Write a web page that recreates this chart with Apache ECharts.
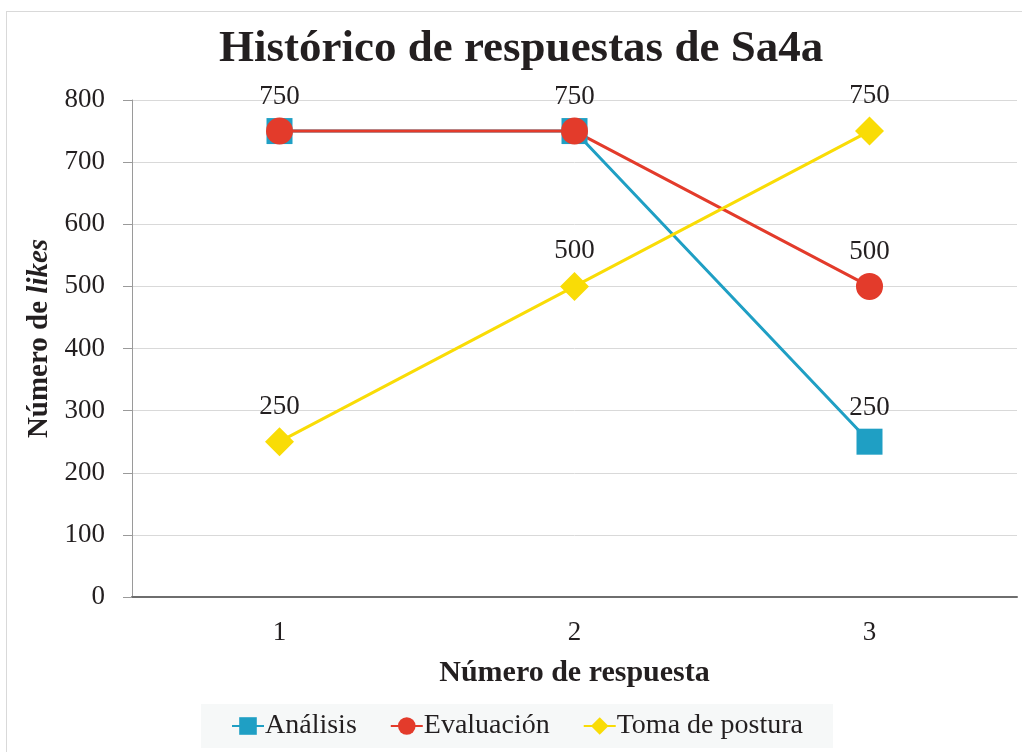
<!DOCTYPE html>
<html>
<head>
<meta charset="utf-8">
<script src="https://cdn.jsdelivr.net/npm/echarts@6/dist/echarts.min.js"></script>
<style>
  html, body { margin: 0; padding: 0; background: #fff; }
  #frame { position: absolute; left: 6px; top: 11px; width: 1030px; height: 760px; border: 1px solid #d9d9d9; box-sizing: border-box; }
  #chart { position: absolute; left: 0; top: 0; width: 1022px; height: 752px; }
</style>
</head>
<body>
<div id="frame"></div>
<div id="chart"></div>
<script>
// Responses (x axis) and likes per category
const respuestas = ['1', '2', '3'];
const analisis = [750, 750, 250];
const evaluacion = [750, 750, 500];
const tomaDePostura = [250, 500, 750];

const serif = '"Liberation Serif", "DejaVu Serif", serif';
const ink = '#231f20';
const chart = echarts.init(document.getElementById('chart'), null, { renderer: 'canvas' });

function lineSeries(name, data, color, symbol, size) {
  return {
    name: name,
    type: 'line',
    data: data,
    symbol: symbol,
    symbolSize: size,
    lineStyle: { color: color, width: 3 },
    itemStyle: { color: color },
    label: {
      show: true,
      position: 'top',
      distance: 7,
      color: ink,
      fontFamily: serif,
      fontSize: 27
    },
    labelLayout: { hideOverlap: true },
    emphasis: { disabled: true },
    animation: false
  };
}

chart.setOption({
  backgroundColor: 'transparent',
  title: {
    text: 'Histórico de respuestas de Sa4a',
    left: 214,
    top: 22,
    textStyle: { fontFamily: serif, fontWeight: 'bold', fontSize: 45, color: ink }
  },
  grid: { left: 132, right: 5, top: 100, bottom: 155 },
  legend: {
    bottom: 4,
    left: 201,
    backgroundColor: '#f6f8f8',
    padding: [8, 30, 8, 30],
    itemGap: 33,
    itemWidth: 32,
    itemHeight: 22,
    textStyle: { fontFamily: serif, fontSize: 28, color: ink, padding: [0, 0, 0, -4] },
    data: ['Análisis', 'Evaluación', 'Toma de postura']
  },
  xAxis: {
    type: 'category',
    data: respuestas,
    boundaryGap: true,
    name: 'Número de respuesta',
    nameLocation: 'middle',
    nameGap: 61,
    nameTextStyle: { fontFamily: serif, fontWeight: 'bold', fontSize: 30, color: ink },
    axisLine: { lineStyle: { color: '#6e6e6e', width: 2 } },
    axisTick: { show: false },
    axisLabel: { fontFamily: serif, fontSize: 27, color: ink, margin: 22 },
    splitLine: { show: false }
  },
  yAxis: {
    type: 'value',
    min: 0,
    max: 800,
    interval: 100,
    name: '{b|Número de }{i|likes}',
    nameLocation: 'middle',
    nameGap: 71,
    nameRotate: 90,
    nameTextStyle: {
      padding: [0, 0, 0, 20],
      rich: {
        b: { fontFamily: serif, fontWeight: 'bold', fontSize: 29, color: ink },
        i: { fontFamily: serif, fontWeight: 'bold', fontStyle: 'italic', fontSize: 29, color: ink }
      }
    },
    axisLine: { show: true, lineStyle: { color: '#9a9a9a', width: 1 } },
    axisTick: { show: true, inside: false, length: 9, lineStyle: { color: '#9a9a9a' } },
    axisLabel: { fontFamily: serif, fontSize: 27, color: ink, margin: 27 },
    splitLine: { lineStyle: { color: '#d9d9d9', width: 1 } }
  },
  series: [
    lineSeries('Análisis', analisis, '#1f9fc4', 'rect', 26),
    lineSeries('Evaluación', evaluacion, '#e33b2b', 'circle', 27),
    lineSeries('Toma de postura', tomaDePostura, '#f9dc06', 'diamond', 29)
  ]
});
</script>
</body>
</html>
